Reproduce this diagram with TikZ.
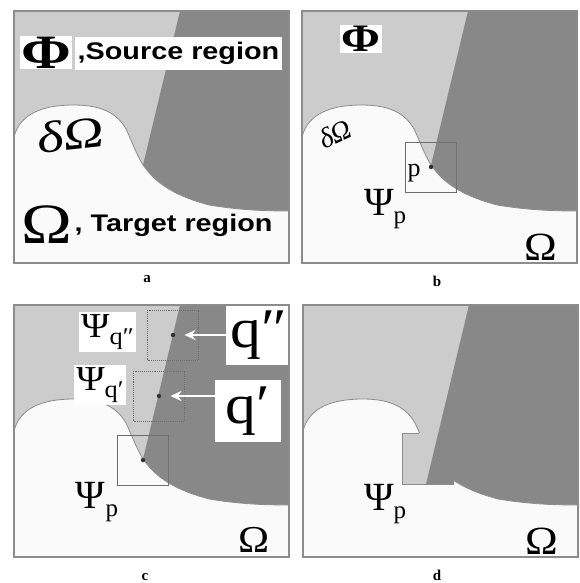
\documentclass[tikz,border=0pt]{standalone}
\usepackage{fontspec}
\setsansfont{Liberation Sans}
\newfontfamily\symserif{Liberation Serif}
\usetikzlibrary{arrows.meta}
\definecolor{SourceGray}{RGB}{204,204,204}
\definecolor{FillGray}{RGB}{136,136,136}
\definecolor{TargetWhite}{RGB}{250,250,250}
\definecolor{FrameGray}{RGB}{140,140,140}
\definecolor{PatchGray}{RGB}{110,110,110}
\newcommand{\omegaedge}{(0,126) .. controls (6,102) and (30,94) .. (60,94) .. controls (90,94) and (104,104) .. (112,118) .. controls (120,135) and (124,148) .. (132,158) .. controls (145,175) and (165,186) .. (195,194) .. controls (225,199) and (250,200) .. (275,200)}
\newcommand{\filledge}{(166,0) -- (275,0) -- (275,252) -- (105.5,252) -- cycle}
\newcommand{\sub}[3]{\raisebox{-#1pt}{\fontsize{#2}{#2}\selectfont #3}}
\tikzset{
  panelframe/.style={draw=FrameGray, line width=1.2pt},
  omegaline/.style={draw=FrameGray, line width=0.8pt},
  patchbox/.style={draw=PatchGray, line width=0.9pt, minimum width=51pt, minimum height=50pt, inner sep=0pt},
  patchdotted/.style={patchbox, densely dotted},
  pdot/.style={circle, fill=black!80, inner sep=0pt, minimum size=4.5pt},
  greek/.style={font=\symserif\fontsize{40}{40}\selectfont, inner sep=1pt},
  labelbox/.style={fill=white, inner sep=2pt},
  wordlabel/.style={font=\sffamily\bfseries\fontsize{24}{24}\selectfont, xscale=1.2, inner sep=2pt, anchor=west},
  panelcap/.style={font=\symserif\bfseries\fontsize{15}{15}\selectfont},
  whitearrow/.style={draw=white, line width=2.2pt, -{Stealth[length=11pt, width=10pt]}, shorten >=9pt},
}
\begin{document}
\begin{tikzpicture}[x=1pt, y=-1pt]
  \useasboundingbox[fill=white] (0,0) rectangle (579,583);

  \begin{scope}[shift={(14,11)}]
    \fill[SourceGray] (0,0) rectangle (275,252);
    \fill[FillGray] \filledge;
    \fill[TargetWhite] \omegaedge -- (275,252) -- (0,252) -- cycle;
    \draw[omegaline] \omegaedge;
    \draw[panelframe] (0,0) rectangle (275,252);
    \node[greek, labelbox, font=\symserif\bfseries\fontsize{48}{48}\selectfont, xscale=1.25, inner sep=1pt] (phiA) at (32,41.5) {Φ};
    \node[wordlabel, fill=white, minimum height=33pt] (srcA) at (61,42.5) {,Source region};
    \node[greek, font=\symserif\itshape\fontsize{44}{44}\selectfont, xscale=1.3, rotate=8] (domA) at (56,124) {δΩ};
    \node[greek, font=\symserif\fontsize{57}{57}\selectfont, xscale=1.2] (omA) at (33,214) {Ω};
    \node[wordlabel] (tgtA) at (58,214) {, Target region};
  \end{scope}

  \begin{scope}[shift={(302,11)}]
    \fill[SourceGray] (0,0) rectangle (275,252);
    \fill[FillGray] \filledge;
    \fill[TargetWhite] \omegaedge -- (275,252) -- (0,252) -- cycle;
    \draw[omegaline] \omegaedge;
    \draw[panelframe] (0,0) rectangle (275,252);
    \node[greek, labelbox, font=\symserif\bfseries\fontsize{39}{39}\selectfont, xscale=1.2, inner sep=1pt] (phiB) at (59,28) {Φ};
    \node[greek, font=\symserif\itshape\fontsize{28}{28}\selectfont, rotate=25] (domB) at (33,123) {δΩ};
    \node[patchbox] (patchB) at (129,156) {};
    \node[pdot] (pB) at (129,156) {};
    \node[greek, font=\symserif\fontsize{26}{26}\selectfont] (plabB) at (112,162) {p};
    \node[greek] (psiB) at (83,198) {Ψ\sub{8}{25}{p}};
    \node[greek, xscale=1.1] (omB) at (239,236) {Ω};
  \end{scope}

  \begin{scope}[shift={(14,305)}]
    \fill[SourceGray] (0,0) rectangle (275,252);
    \fill[FillGray] \filledge;
    \fill[TargetWhite] \omegaedge -- (275,252) -- (0,252) -- cycle;
    \draw[omegaline] \omegaedge;
    \node[patchdotted] (patchQpp) at (159,30) {};
    \node[patchdotted] (patchQp) at (145,91) {};
    \node[patchbox] (patchC) at (129,155) {};
    \node[pdot] (qppdot) at (159,30) {};
    \node[pdot] (qpdot) at (145,91) {};
    \node[pdot] (pC) at (129,155) {};
    \node[greek, labelbox, font=\symserif\fontsize{35}{35}\selectfont, xscale=1.1, inner sep=2pt] (psiQpp) at (93.5,27) {Ψ\sub{7}{24}{q″}};
    \node[greek, labelbox, font=\symserif\fontsize{35}{35}\selectfont, xscale=1.1, inner sep=2pt] (psiQp) at (86,80) {Ψ\sub{7}{24}{q′}};
    \node[fill=white, minimum width=60pt, minimum height=60pt, inner sep=0pt, font=\symserif\fontsize{56}{56}\selectfont, xscale=1.1] (qpp) at (245,30) {q″};
    \node[fill=white, minimum width=60pt, minimum height=62pt, inner sep=0pt, font=\symserif\fontsize{56}{56}\selectfont, xscale=1.1] (qp) at (234,106) {q′};
    \draw[whitearrow] (qpp.west) -- (qppdot);
    \draw[whitearrow] (qp.west |- qpdot) -- (qpdot);
    \node[greek] (psiC) at (83,197) {Ψ\sub{8}{25}{p}};
    \node[greek, font=\symserif\fontsize{38}{38}\selectfont, xscale=1.1] (omC) at (240,235) {Ω};
    \draw[panelframe] (0,0) rectangle (275,252);
  \end{scope}

  \begin{scope}[shift={(303,305)}]
    \fill[SourceGray] (0,0) rectangle (275,252);
    \fill[FillGray] \filledge;
    \fill[TargetWhite] \omegaedge -- (275,252) -- (0,252) -- cycle;
    \draw[omegaline] \omegaedge;
    \fill[SourceGray] (99,128) rectangle (151,179);
    \begin{scope}
      \clip (99,128) rectangle (151,179);
      \fill[FillGray] \filledge;
    \end{scope}
    \draw[omegaline] (116,128) -- (99,128) -- (99,179) -- (151,179);
    \draw[panelframe] (0,0) rectangle (275,252);
    \node[greek] (psiD) at (82,199) {Ψ\sub{8}{25}{p}};
    \node[greek, xscale=1.1] (omD) at (239,236) {Ω};
  \end{scope}

  \node[panelcap] (capA) at (147,279) {a};
  \node[panelcap] (capB) at (437,281) {b};
  \node[panelcap] (capC) at (145,577) {c};
  \node[panelcap] (capD) at (437,575) {d};
\end{tikzpicture}
\end{document}
